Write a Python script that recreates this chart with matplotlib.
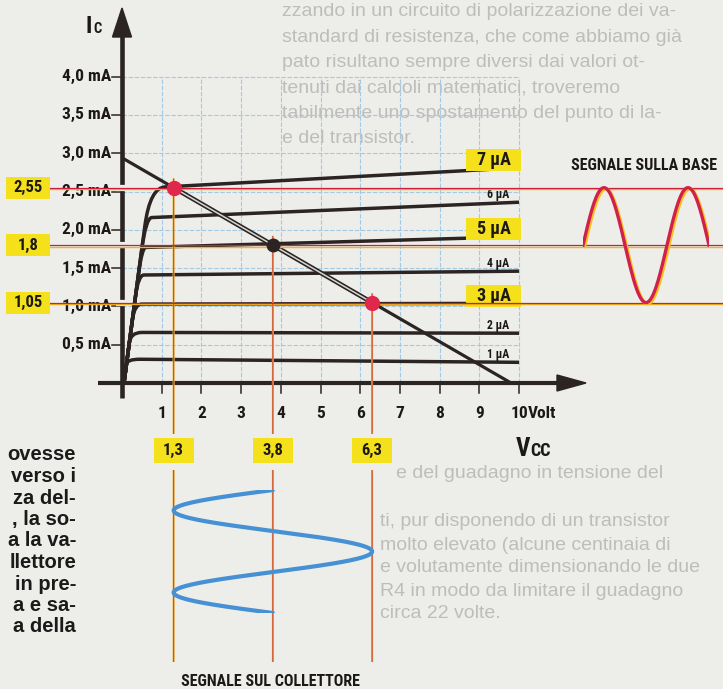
import numpy as np
import matplotlib
matplotlib.use("Agg")
import matplotlib.pyplot as plt
from matplotlib import font_manager as fm
from matplotlib.path import Path
from matplotlib.patches import PathPatch, Rectangle, Polygon
from matplotlib.transforms import offset_copy

# ---------------- data ----------------
ib_labels = ['1 μA', '2 μA', '3 μA', '4 μA', '5 μA', '6 μA', '7 μA']
ib_boxed = [False, False, True, False, True, False, True]
ic_knee_ma = [0.31, 0.66, 1.03, 1.41, 1.77, 2.16, 2.56]   # Ic just after the knee
ic_end_ma = [0.27, 0.65, 1.04, 1.46, 1.91, 2.36, 2.81]    # Ic at 10 V
v_knee = [0.45, 0.50, 0.50, 0.55, 0.60, 0.75, 1.10]       # V where each curve turns flat
envelope_slope = 3.9                                       # mA/V of the common rising edge

load_i0 = 2.94   # mA at Vce = 0
load_v0 = 9.8    # V at Ic = 0

q_v = [1.3, 3.8, 6.3]
q_i = [2.55, 1.8, 1.05]
q_v_labels = ['1,3', '3,8', '6,3']
q_i_labels = ['2,55', '1,8', '1,05']
q_colors = ['#e0284c', '#2b2422', '#e0284c']

x_ticks = [1, 2, 3, 4, 5, 6, 7, 8, 9, 10]
x_tick_labels = ['1', '2', '3', '4', '5', '6', '7', '8', '9', '10']
y_ticks = [0.5, 1.0, 1.5, 2.0, 2.5, 3.0, 3.5, 4.0]
y_tick_labels = ['0,5 mA', '1,0 mA', '1,5 mA', '2,0 mA', '2,5 mA', '3,0 mA', '3,5 mA', '4,0 mA']

signal_cycles = 1.5

left_text = ['ovesse', 'verso i', 'za del-', ', la so-', 'a la va-',
             'llettore', 'in pre-', 'a e sa-', 'a della']
faded_top = ['zzando in un circuito di polarizzazione dei va-',
             'standard di resistenza, che come abbiamo già',
             'pato risultano sempre diversi dai valori ot-',
             'tenuti dai calcoli matematici, troveremo',
             'tabilmente uno spostamento del punto di la-',
             'e del transistor.']
faded_mid = ['e del guadagno in tensione del']
faded_bottom = ['ti, pur disponendo di un transistor',
                'molto elevato (alcune centinaia di',
                'e volutamente dimensionando le due',
                'R4 in modo da limitare il guadagno',
                'circa 22 volte.']

# ---------------- fonts ----------------
names = {f.name for f in fm.fontManager.ttflist}
COND = None
for cand in ['Roboto Condensed', 'Liberation Sans Narrow', 'Open Sans Condensed', 'DejaVu Sans Condensed']:
    if cand in names:
        COND = cand
        break
if COND is None:
    CF = dict(family=['DejaVu Sans'], fontstretch='condensed')
else:
    CF = dict(family=[COND, 'DejaVu Sans'])
BODY = dict(family=['Liberation Sans', 'DejaVu Sans'])

# ---------------- layout ----------------
W, H = 723, 689
X0, SX = 122.0, 39.7     # pixel of 0 V, pixels per volt
Y0, SY = 383.0, 76.6     # pixel of 0 mA, pixels per mA


def vx(px):
    return (px - X0) / SX


def iy(py):
    return (Y0 - py) / SY


BG = '#edeeea'
INK = '#2b2422'
RED = '#c8203e'
YEL = '#f2b81a'
BOX = '#f4e11c'
GRID = '#a4c9e3'
FADE = '#bdbebb'

fig = plt.figure(figsize=(W / 100, H / 100), dpi=100)
fig.patch.set_facecolor(BG)
ax = fig.add_axes([0, 0, 1, 1])
ax.set_xlim(vx(0), vx(W))
ax.set_ylim(iy(H), iy(0))
ax.axis('off')


def T(px, py, s, size, ha='center', va='center', weight='bold', color='#1c1816', font=None, z=4, **kw):
    f = CF if font is None else font
    return ax.text(vx(px), iy(py), s, fontsize=size, ha=ha, va=va, fontweight=weight,
                   color=color, zorder=z, **f, **kw)


# faded page text
for k, s in enumerate(faded_top):
    T(282, 12 + k * 25.3, s, 14, ha='left', weight='normal', color=FADE, font=BODY, z=0.2)
for k, s in enumerate(faded_mid):
    T(396, 473, s, 14, ha='left', weight='normal', color=FADE, font=BODY, z=0.2)
for k, s in enumerate(faded_bottom):
    T(380, 522 + k * 23, s, 14, ha='left', weight='normal', color=FADE, font=BODY, z=0.2)

# left column body text
for k, s in enumerate(left_text):
    T(76, 455 + k * 21.5, s, 14.5, ha='right', weight='bold', color='#1a1a1a', font=BODY)

# grid
gkw = dict(color=GRID, lw=0.8, ls=(0, (4, 1.5)), zorder=0.5)
for v in x_ticks:
    ax.plot([v, v], [0, max(y_ticks)], **gkw)
for i in y_ticks:
    ax.plot([0, max(x_ticks)], [i, i], **gkw)

# characteristic curves
for il, ir, vk in zip(ic_knee_ma, ic_end_ma, v_knee):
    vc = 0.05 + il / envelope_slope
    verts = [(0.05, 0.0), (0.05 + 0.8 * (vc - 0.05), 0.8 * il), (vc, il), (vk, il), (max(x_ticks), ir)]
    codes = [Path.MOVETO, Path.LINETO, Path.CURVE3, Path.CURVE3, Path.LINETO]
    ax.add_patch(PathPatch(Path(verts, codes), fill=False, lw=2.5, ec=INK, zorder=2,
                           capstyle='butt', joinstyle='round'))

# load line
ax.plot([0, load_v0], [load_i0, 0], color=INK, lw=2.3, zorder=2.5, solid_capstyle='butt')
li = [load_i0 - load_i0 / load_v0 * v for v in (q_v[0], q_v[2])]
ax.plot([q_v[0], q_v[2]], li, color=INK, lw=3.4, zorder=2.6)
ax.plot([q_v[0], q_v[2]], li, color='#d6d6d2', lw=1.1, zorder=2.7)

# axes
ax.plot([0, 0], [iy(398), iy(34)], color=INK, lw=3.3, zorder=3, solid_capstyle='butt')
ax.add_patch(Polygon([(0, iy(8)), (vx(112.5), iy(37)), (vx(131.5), iy(37))],
                     closed=True, fc=INK, ec=INK, zorder=3))
ax.plot([vx(98), vx(560)], [0, 0], color=INK, lw=3.0, zorder=3, solid_capstyle='butt')
ax.add_patch(Polygon([(vx(586), 0), (vx(557), iy(Y0 - 8)), (vx(557), iy(Y0 + 8))],
                     closed=True, fc=INK, ec=INK, zorder=3))
for v, lab in zip(x_ticks, x_tick_labels):
    ax.plot([v, v], [0, iy(Y0 + 10)], color=INK, lw=1.1, zorder=3)
    T(X0 + v * SX, 413, lab, 12.5, ha='center')
T(X0 + max(x_ticks) * SX + 8.5, 413, 'Volt', 12.5, ha='left')
for i, lab in zip(y_ticks, y_tick_labels):
    ax.plot([vx(112), 0], [i, i], color=INK, lw=1.1, zorder=3)
    T(111, Y0 - i * SY, lab, 12.5, ha='right')

# axis titles
T(92, 33, 'I', 17, ha='right', va='baseline')
T(93.5, 33, 'C', 10.5, ha='left', va='baseline')
T(530, 456, 'V', 18, ha='right', va='baseline')
T(530.5, 456, 'CC', 13, ha='left', va='baseline')

# Ib labels at the right end of each curve
for lab, boxed, ir in zip(ib_labels, ib_boxed, ic_end_ma):
    if boxed:
        yc = ir + 0.1
        ax.add_patch(Rectangle((vx(466), yc - 11 / SY), 55 / SX, 22 / SY, fc=BOX, ec='none', zorder=3.5))
        T(494, Y0 - yc * SY, lab, 13)
    else:
        T(498, Y0 - (ir + 0.1) * SY, lab, 8.5)

# white breaks in the y axis under the red lines
for i in q_i:
    ax.plot([vx(116), vx(128)], [i, i], color=BG, lw=4.5, zorder=3.2, solid_capstyle='butt')

# red horizontal lines (yellow edge underneath)
tr_y = offset_copy(ax.transData, fig=fig, x=0, y=-1.4, units='dots')
for i in q_i:
    ax.plot([vx(50), vx(W)], [i, i], color=YEL, lw=1.0, zorder=4.9, transform=tr_y)
    ax.plot([vx(50), vx(W)], [i, i], color=RED, lw=0.9, zorder=5)

# value boxes on the left
for i, lab in zip(q_i, q_i_labels):
    ax.add_patch(Rectangle((vx(6), i - 11 / SY), 44 / SX, 22 / SY, fc=BOX, ec='none', zorder=5.5))
    T(28, Y0 - i * SY, lab, 12, z=5.6)

# vertical lines from the working points
for v, i in zip(q_v, q_i):
    for (a, b) in [(i + 0.12, iy(434)), (iy(470), iy(662))]:
        ax.plot([v, v], [a, b], color='#f0b040', lw=1.5, zorder=4.8, solid_capstyle='butt', snap=False)
        ax.plot([v, v], [a, b], color='#c8403a', lw=0.7, zorder=4.9, solid_capstyle='butt', snap=False)

# value boxes below the axis
for v, lab in zip(q_v, q_v_labels):
    ax.add_patch(Rectangle((v - 20 / SX, iy(463)), 40 / SX, 25 / SY, fc=BOX, ec='none', zorder=5.5))
    T(X0 + v * SX, 450, lab, 12, z=5.6)

# working points
for v, i, c in zip(q_v, q_i, q_colors):
    ax.plot([v], [i], 'o', ms=10 if c != INK else 9, mfc=c, mec=c, zorder=6)

# signal on the collector (vertical sine, time going down)
axc = fig.add_axes([0, 1 - 613 / H, 1, 123 / H])
axc.set_xlim(ax.get_xlim())
axc.set_ylim(signal_cycles, 0)
axc.axis('off')
axc.patch.set_alpha(0)
t = np.linspace(0, signal_cycles, 500)
c_mid = q_v[1]
c_amp = (q_v[2] - q_v[0]) / 2
axc.plot(c_mid - c_amp * np.sin(2 * np.pi * t), t, color='#4690d4', lw=3.0,
         solid_capstyle='round', zorder=5)

# signal on the base (horizontal sine)
axb = fig.add_axes([583 / W, 0, 126 / W, 1])
axb.set_ylim(ax.get_ylim())
axb.set_xlim(0, signal_cycles)
axb.axis('off')
axb.patch.set_alpha(0)
b_mid = q_i[1]
b_amp = (q_i[0] - q_i[2]) / 2
tr_b = offset_copy(axb.transData, fig=fig, x=1.6, y=-1.3, units='dots')
axb.plot(t, b_mid + b_amp * np.sin(2 * np.pi * t), color='#f3c21c', lw=2.4, transform=tr_b)
axb.plot(t, b_mid + b_amp * np.sin(2 * np.pi * t), color='#d2204c', lw=2.4)

T(644, 166, 'SEGNALE SULLA BASE', 11.5)
T(270, 681, 'SEGNALE SUL COLLETTORE', 11.5)

fig.savefig('out.png', dpi=100, facecolor=BG)
